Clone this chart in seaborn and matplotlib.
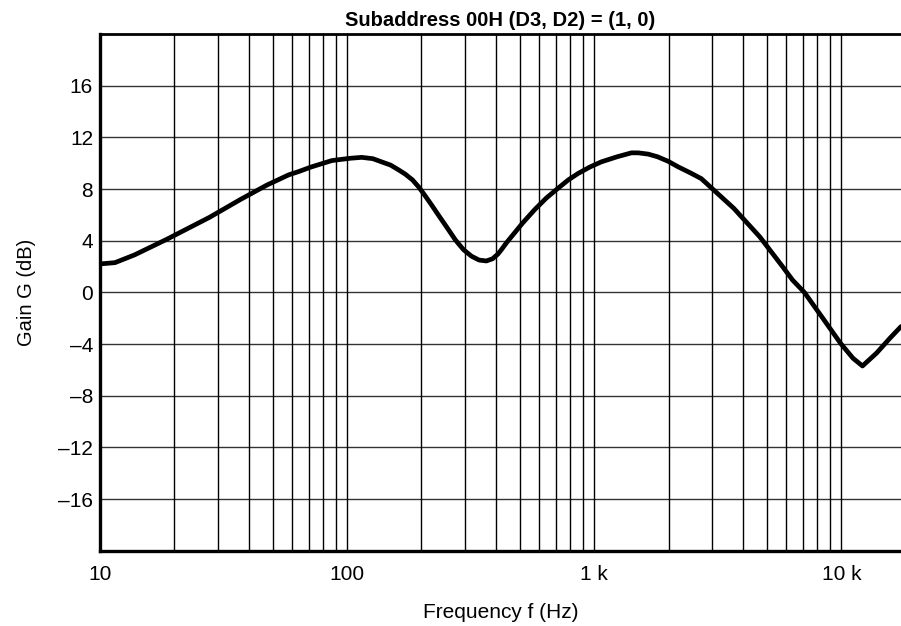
import numpy as np
import pandas as pd
import matplotlib
matplotlib.use("Agg")
import matplotlib.pyplot as plt
import seaborn as sns
from matplotlib.ticker import FixedLocator, FixedFormatter, LogLocator, NullFormatter

# Data
freq_hz = [10.0, 11.5, 13.8, 18.6, 27.7, 37.1, 47.3, 58.1, 63.7, 71.4, 86.7, 90.8,
           103, 114.6, 127, 138, 150, 161, 172, 184, 195, 206.5, 220, 233.8, 254,
           274.5, 296, 318.6, 342, 366, 388, 408, 421, 440, 462, 515,
           574, 640, 713, 785, 860, 960, 1068, 1240, 1415, 1507, 1655, 1801, 1990,
           2194, 2450, 2714, 3095, 3674, 4677, 5781, 6350, 7087, 8414, 9933,
           11150, 12180, 13890, 15730, 17440]
gain_db = [2.2, 2.3, 2.9, 4.1, 5.8, 7.2, 8.3, 9.1, 9.35, 9.7, 10.2, 10.25,
           10.38, 10.45, 10.35, 10.1, 9.85, 9.5, 9.15, 8.7, 8.15, 7.5, 6.75, 6.0, 5.0,
           4.05, 3.3, 2.8, 2.5, 2.43, 2.6, 2.97, 3.3, 3.8, 4.3, 5.4,
           6.4, 7.3, 8.05, 8.7, 9.2, 9.7, 10.1, 10.5, 10.8, 10.8, 10.7, 10.5, 10.15,
           9.7, 9.25, 8.8, 7.8, 6.5, 4.3, 2.0, 0.95, 0.0, -2.0, -3.95,
           -5.1, -5.7, -4.7, -3.55, -2.65]

x_ticks = [10, 100, 1000, 10000]
x_tick_labels = ["10", "100", "1 k", "10 k"]
y_ticks = [-16, -12, -8, -4, 0, 4, 8, 12, 16]
y_tick_labels = [("\u2013" + str(abs(v))) if v < 0 else str(v) for v in y_ticks]

title = "Subaddress 00H (D3, D2) = (1, 0)"
x_label = "Frequency f (Hz)"
y_label = "Gain G (dB)"

df = pd.DataFrame({"freq": freq_hz, "gain": gain_db})

sns.set_style("white")
plt.rcParams["font.family"] = ["Liberation Sans", "DejaVu Sans"]
plt.rcParams["text.color"] = "black"
plt.rcParams["axes.labelcolor"] = "black"
plt.rcParams["xtick.color"] = "black"
plt.rcParams["ytick.color"] = "black"

fig = plt.figure(figsize=(9.01, 6.26), dpi=100)
ax = fig.add_axes([100 / 901, 1 - 550.7 / 626, 801 / 901, (550.7 - 34) / 626])

sns.lineplot(data=df, x="freq", y="gain", ax=ax, color="black", linewidth=3.4,
             estimator=None, sort=False, zorder=5)

ax.set_xscale("log")
ax.set_xlim(10, 17440)
ax.set_ylim(-20, 20)

ax.xaxis.set_major_locator(FixedLocator(x_ticks))
ax.xaxis.set_major_formatter(FixedFormatter(x_tick_labels))
ax.xaxis.set_minor_locator(LogLocator(base=10, subs=np.arange(2, 10)))
ax.xaxis.set_minor_formatter(NullFormatter())
ax.yaxis.set_major_locator(FixedLocator(y_ticks))
ax.yaxis.set_major_formatter(FixedFormatter(y_tick_labels))

ax.grid(True, which="both", axis="x", color="black", linewidth=1.0)
ax.grid(True, which="major", axis="y", color="black", linewidth=1.0, alpha=0.8)

ax.tick_params(axis="both", which="both", length=0, labelsize=15)
ax.tick_params(axis="x", pad=10)
ax.tick_params(axis="y", pad=5)

for side in ["left", "bottom"]:
    ax.spines[side].set_linewidth(2.4)
    ax.spines[side].set_color("black")
ax.spines["top"].set_linewidth(2.0)
ax.spines["top"].set_color("black")
ax.spines["right"].set_visible(False)

ax.set_title(title, fontsize=14.5, fontweight="bold", pad=6)
ax.set_xlabel(x_label, fontsize=15, labelpad=14)
ax.set_ylabel(y_label, fontsize=14.5, labelpad=16)

fig.savefig("out.png", dpi=100)
